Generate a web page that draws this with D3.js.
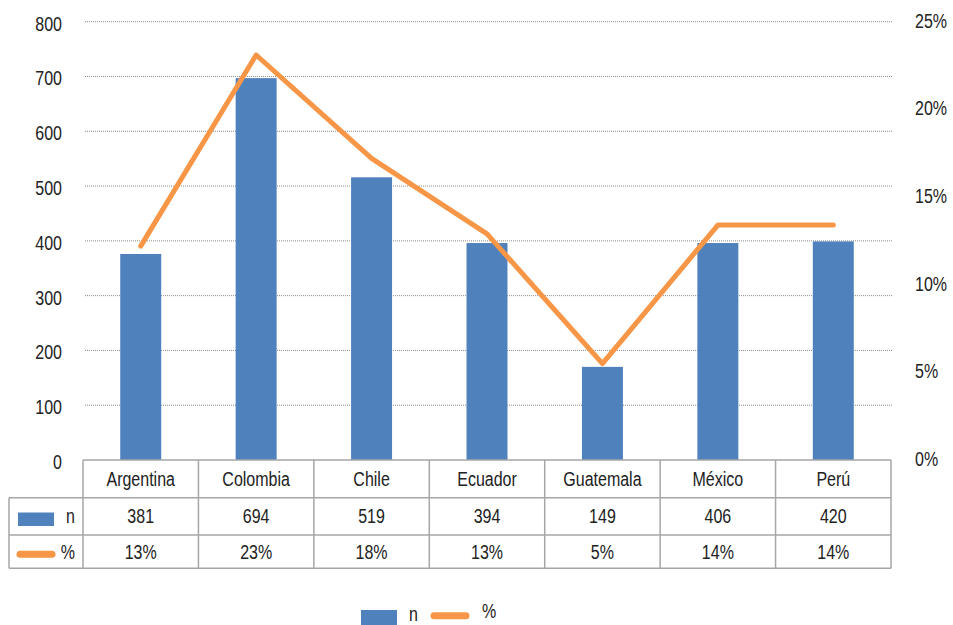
<!DOCTYPE html>
<html>
<head>
<meta charset="utf-8">
<script src="https://cdn.jsdelivr.net/npm/d3@7"></script>
<style>
  body { margin: 0; background: #fff; }
  text { font-family: "Liberation Sans", Arial, sans-serif; fill: #222; }
</style>
</head>
<body>
<div id="chart"></div>
<script>
// Data
const countries = ["Argentina", "Colombia", "Chile", "Ecuador", "Guatemala", "México", "Perú"];
const barValues = [376, 697, 516, 396, 170, 396, 399];            // bar heights (left axis)
const pctValues = [0.122, 0.231, 0.172, 0.129, 0.055, 0.134, 0.134]; // line (right axis)
const tableN = ["381", "694", "519", "394", "149", "406", "420"];
const tablePct = ["13%", "23%", "18%", "13%", "5%", "14%", "14%"];
const leftTicks = [0, 100, 200, 300, 400, 500, 600, 700, 800];
const rightTicks = [0, 0.05, 0.10, 0.15, 0.20, 0.25];

const W = 953, H = 625;
const plot = {left: 83, right: 891, top: 21.7, bottom: 460};
const rows = [460, 497.7, 535, 568.3];
const blue = "#4F81BD", orange = "#F79646", border = "#a6a6a6";
const squeeze = "scale(0.8,1)"; // narrow the text like a condensed face

const svg = d3.select("#chart").append("svg")
    .attr("width", W).attr("height", H);

// Scales
const x = d3.scaleBand().domain(countries).range([plot.left, plot.right]);
const y = d3.scaleLinear().domain([0, 800]).range([plot.bottom, plot.top]);
const y2 = d3.scaleLinear().domain([0, 0.25]).range([plot.bottom, plot.top]);

// Gridlines
svg.append("g").selectAll("line")
    .data(leftTicks.filter(d => d > 0))
    .join("line")
    .attr("x1", 85).attr("x2", 893)
    .attr("y1", d => y(d)).attr("y2", d => y(d))
    .attr("stroke", "#8c8c8c")
    .attr("stroke-width", 1)
    .attr("stroke-dasharray", "1,1");

// Left axis
const axL = svg.append("g")
    .attr("transform", "translate(62,2)")
    .call(d3.axisLeft(y).tickValues(leftTicks).tickSize(0).tickPadding(0));
axL.select(".domain").remove();
axL.attr("font-family", null).attr("font-size", 20);
axL.selectAll("text").attr("x", 0).attr("transform", squeeze);

// Right axis
const axR = svg.append("g")
    .attr("transform", "translate(915,-1)")
    .call(d3.axisRight(y2).tickValues(rightTicks).tickSize(0).tickPadding(0).tickFormat(d3.format(".0%")));
axR.select(".domain").remove();
axR.attr("font-family", null).attr("font-size", 20);
axR.selectAll("text").attr("x", 0).attr("transform", squeeze);

// Bars
const barW = x.bandwidth() * 0.355;
svg.append("g").selectAll("rect")
    .data(countries)
    .join("rect")
    .attr("x", (d, i) => x(d) + x.bandwidth() / 2 - barW / 2)
    .attr("y", (d, i) => y(barValues[i]))
    .attr("width", barW)
    .attr("height", (d, i) => y(0) - y(barValues[i]))
    .attr("fill", blue);

// Line
const line = d3.line()
    .x(d => x(d.c) + x.bandwidth() / 2)
    .y(d => y2(d.v));
svg.append("path")
    .datum(countries.map((c, i) => ({c: c, v: pctValues[i]})))
    .attr("d", line)
    .attr("fill", "none")
    .attr("stroke", orange)
    .attr("stroke-width", 5)
    .attr("stroke-linejoin", "round")
    .attr("stroke-linecap", "round");

// Data table
const tbl = svg.append("g");
tbl.append("line").attr("x1", plot.left).attr("x2", plot.right).attr("y1", rows[0]).attr("y2", rows[0]);
[rows[1], rows[2], rows[3]].forEach(r => {
    tbl.append("line").attr("x1", 9).attr("x2", plot.right).attr("y1", r).attr("y2", r);
});
tbl.selectAll("line.v")
    .data(countries.map(c => x(c)).concat([plot.right]))
    .join("line")
    .attr("class", "v")
    .attr("x1", d => d).attr("x2", d => d)
    .attr("y1", rows[0]).attr("y2", rows[3]);
tbl.append("line").attr("x1", 9).attr("x2", 9).attr("y1", rows[1]).attr("y2", rows[3]);
tbl.selectAll("line").attr("stroke", border).attr("stroke-width", 1.5);

// text placed at (px,py) and squeezed horizontally
const label = (g, px, py, s, anchor) => g.append("text")
    .attr("transform", `translate(${px},${py}) ${squeeze}`)
    .attr("dy", "0.35em")
    .attr("text-anchor", anchor)
    .attr("font-size", 20)
    .text(s);

const cellText = (vals, r) => {
    const g = tbl.append("g");
    vals.forEach((v, i) => label(g, x(countries[i]) + x.bandwidth() / 2, (rows[r] + rows[r + 1]) / 2, v, "middle"));
};
cellText(countries, 0);
cellText(tableN, 1);
cellText(tablePct, 2);

// legend keys inside table
tbl.append("rect").attr("x", 18).attr("y", 512.5).attr("width", 36).attr("height", 13.5).attr("fill", blue);
label(tbl, 75, (rows[1] + rows[2]) / 2, "n", "end");
tbl.append("line").attr("x1", 20).attr("x2", 52).attr("y1", 554.3).attr("y2", 554.3)
    .attr("stroke", orange).attr("stroke-width", 7).attr("stroke-linecap", "round");
label(tbl, 75, (rows[2] + rows[3]) / 2, "%", "end");

// Bottom legend
const leg = svg.append("g");
leg.append("rect").attr("x", 361).attr("y", 610).attr("width", 36).attr("height", 16).attr("fill", blue);
label(leg, 409, 614, "n", "start");
leg.append("line").attr("x1", 434).attr("x2", 466).attr("y1", 615.7).attr("y2", 615.7)
    .attr("stroke", orange).attr("stroke-width", 7).attr("stroke-linecap", "round");
label(leg, 482, 611, "%", "start");
</script>
</body>
</html>
